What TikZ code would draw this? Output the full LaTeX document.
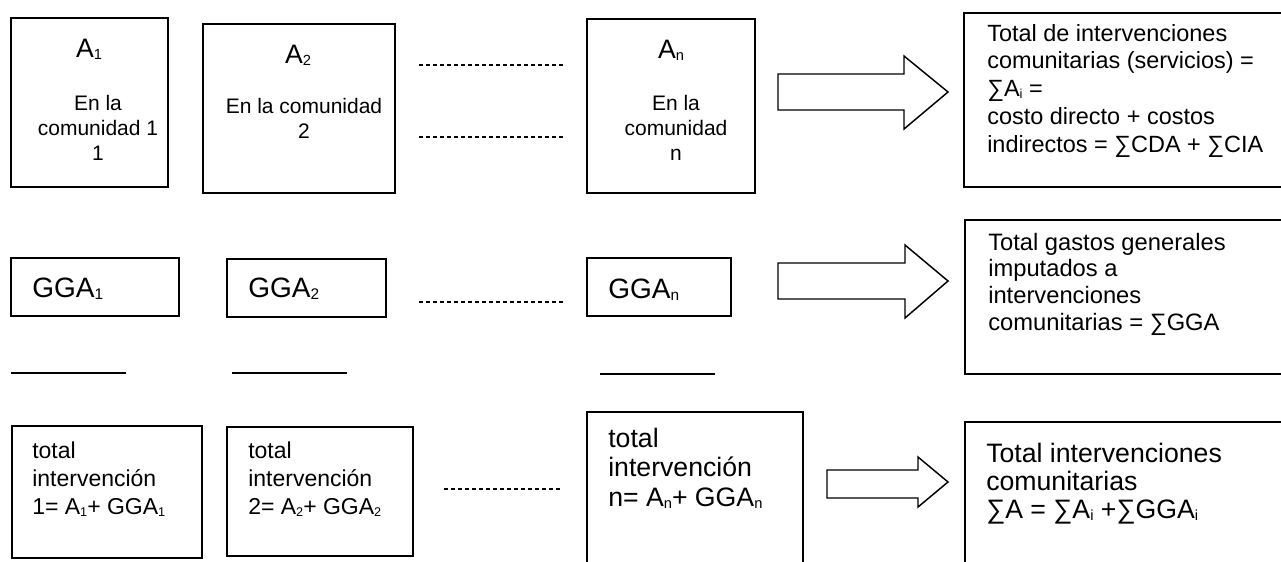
\documentclass[tikz,border=0pt]{standalone}
\usepackage{fontspec}
\setmainfont{Liberation Sans}
\usepackage{graphicx}
\usepackage{tikz}

\newcommand{\lowsub}[1]{\raisebox{-0.1em}{\scalebox{0.55}{#1}}}

\begin{document}
\begin{tikzpicture}[x=0.75pt,y=0.75pt,yscale=-1,xscale=1,
  box/.style={line width=1.5pt},
  dots/.style={line width=1.5pt,dash pattern=on 3pt off 2.25pt},
  rule/.style={line width=1.5pt},
  bigarrow/.style={line width=1.1pt,line join=miter},
  lbl/.style={anchor=base,inner sep=0pt,font=\fontsize{20}{24}\selectfont},
  ctxt/.style={anchor=base,inner sep=0pt,align=center,font=\fontsize{15.75}{18.4}\selectfont},
  txt/.style={anchor=base west,inner sep=0pt,align=left}]
\useasboundingbox (0,0) rectangle (1281,561);

%Shape: Rectangle
\draw [box] (11,18) rectangle (168,187) ;
%Shape: Rectangle
\draw [box] (203,24) rectangle (395,193) ;
%Shape: Rectangle
\draw [box] (587,19) rectangle (755,193) ;
%Shape: Rectangle (open at right)
\draw [box] (1281,13) -- (964,13) -- (964,187) -- (1281,187) ;
%Straight Lines
\draw [dots] (419,65) -- (563,65) ;
%Straight Lines
\draw [dots] (419,137) -- (563,137) ;
%Shape: Right Arrow
\draw [bigarrow] (778,74) -- (904,74) -- (904,56) -- (948,92) -- (904,129) -- (904,110) -- (778,110) -- cycle ;

%Shape: Rectangle
\draw [box] (11,258) rectangle (179,316) ;
%Shape: Rectangle
\draw [box] (227,259) rectangle (386,317) ;
%Shape: Rectangle
\draw [box] (587,258) rectangle (731,316) ;
%Shape: Rectangle (open at right)
\draw [box] (1281,220) -- (965,220) -- (965,374) -- (1281,374) ;
%Straight Lines
\draw [dots] (419,302) -- (563,302) ;
%Straight Lines
\draw [rule] (11,373) -- (126,373) ;
\draw [rule] (232,373) -- (347,373) ;
\draw [rule] (600,374) -- (715,374) ;
%Shape: Right Arrow
\draw [bigarrow] (778,263) -- (905,263) -- (905,245) -- (948,281) -- (905,318) -- (905,299) -- (778,299) -- cycle ;

%Shape: Rectangle
\draw [box] (12,426) rectangle (202,558) ;
%Shape: Rectangle
\draw [box] (227,427) rectangle (413,556) ;
%Shape: Rectangle (open at bottom)
\draw [box] (587,562) -- (587,412) -- (803,412) -- (803,562) ;
%Shape: Rectangle (open at bottom and right)
\draw [box] (965,562) -- (965,422) -- (1281,422) ;
%Straight Lines
\draw [dots] (444,489) -- (560,489) ;
%Shape: Right Arrow
\draw [bigarrow] (827,470) -- (918,470) -- (918,457) -- (948,482) -- (918,507) -- (918,498) -- (827,498) -- cycle ;

% Text Node (base = last line)
\draw (89,57) node (labA1) [lbl] {A\lowsub{1}};
% Text Node
\draw (98,160) node (comA1) [ctxt] {En la\\comunidad 1\\1};
% Text Node
\draw (298,63) node (labA2) [lbl] {A\lowsub{2}};
% Text Node
\draw (304,138) node (comA2) [ctxt] {En la comunidad\\2};
% Text Node
\draw (671,58) node (labAn) [lbl] {A\lowsub{n}};
% Text Node
\draw (676,160) node (comAn) [ctxt] {En la\\comunidad\\n};
% Text Node
\draw (987,152) node (sumA) [txt,font=\fontsize{17.6}{20.8}\selectfont] {Total de intervenciones\\comunitarias (servicios) =\\∑A\lowsub{i} =\\costo directo + costos\\indirectos = ∑CDA + ∑CIA};

% Text Node
\draw (32,297) node (gga1) [txt,font=\fontsize{21}{25}\selectfont] {GGA\lowsub{1}};
% Text Node
\draw (248,297) node (gga2) [txt,font=\fontsize{21}{25}\selectfont] {GGA\lowsub{2}};
% Text Node
\draw (608,298) node (ggan) [txt,font=\fontsize{21}{25}\selectfont] {GGA\lowsub{n}};
% Text Node
\draw (988,330) node (sumGGA) [txt,font=\fontsize{17.8}{20}\selectfont] {Total gastos generales\\imputados a\\intervenciones\\comunitarias = ∑GGA};

% Text Node
\draw (32,514) node (tot1) [txt,font=\fontsize{17.25}{21}\selectfont] {total\\intervención\\1= A\lowsub{1}+ GGA\lowsub{1}};
% Text Node
\draw (248,514) node (tot2) [txt,font=\fontsize{17.25}{21}\selectfont] {total\\intervención\\2= A\lowsub{2}+ GGA\lowsub{2}};
% Text Node
\draw (608,506) node (totn) [txt,font=\fontsize{20}{22}\selectfont] {total\\intervención\\n= A\lowsub{n}+ GGA\lowsub{n}};
% Text Node
\draw (986,518) node (sumT) [txt,font=\fontsize{20}{21}\selectfont] {Total intervenciones\\comunitarias\\∑A = ∑A\lowsub{i} +∑GGA\lowsub{i}};

\end{tikzpicture}
\end{document}
